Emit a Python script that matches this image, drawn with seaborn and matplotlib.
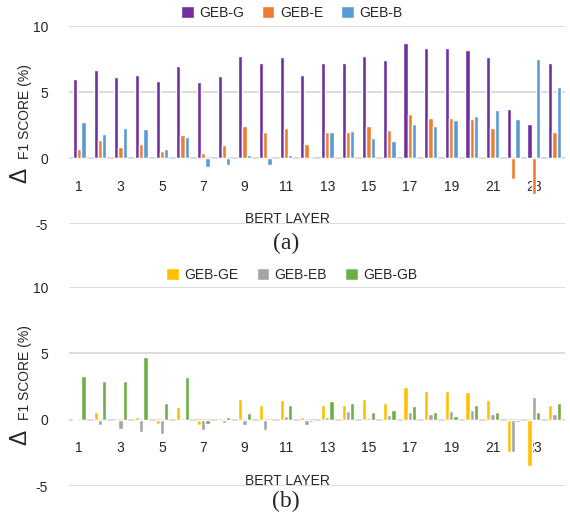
import numpy as np
import pandas as pd
import seaborn as sns
import matplotlib.pyplot as plt

# BERT layers 1..24
layers = list(range(1, 25))

# (a) single-embedding variants
geb_g = [6.0, 6.7, 6.1, 6.3, 5.8, 7.0, 5.75, 6.2, 7.75, 7.2, 7.65, 6.3,
         7.2, 7.2, 7.75, 7.4, 8.7, 8.3, 8.3, 8.2, 7.65, 3.75, 2.6, 7.2]
geb_e = [0.65, 1.4, 0.85, 1.05, 0.5, 1.75, 0.4, 0.95, 2.4, 1.95, 2.3, 1.05,
         1.95, 1.95, 2.4, 2.1, 3.3, 3.0, 3.0, 2.95, 2.3, -1.6, -2.7, 1.95]
geb_b = [2.75, 1.85, 2.3, 2.2, 0.65, 1.6, -0.65, -0.5, 0.2, -0.5, 0.2, 0.0,
         1.95, 2.05, 1.5, 1.3, 2.6, 2.4, 2.85, 3.2, 3.6, 2.95, 7.5, 5.4]

# (b) combined-embedding variants
geb_ge = [0.05, 0.6, 0.0, 0.2, -0.3, 0.95, -0.4, 0.15, 1.6, 1.1, 1.5, 0.2,
          1.15, 1.15, 1.6, 1.3, 2.5, 2.2, 2.2, 2.1, 1.5, -2.4, -3.5, 1.15]
geb_eb = [-0.05, -0.4, -0.7, -0.95, -1.05, -0.05, -0.8, -0.25, -0.4, -0.8, 0.3, -0.4,
          0.2, 0.65, 0.1, 0.35, 0.55, 0.4, 0.65, 0.75, 0.4, -2.4, 1.7, 0.4]
geb_gb = [3.3, 2.95, 2.95, 4.75, 1.3, 3.2, -0.3, 0.2, 0.5, -0.05, 1.15, -0.2,
          1.4, 1.3, 0.6, 0.75, 1.05, 0.6, 0.3, 1.15, 0.6, -0.2, 0.6, 1.3]

tick_layers = [str(n) for n in layers if n % 2 == 1]

sns.set_style('white')
plt.rcParams['font.family'] = ['Liberation Sans', 'DejaVu Sans']
plt.rcParams['axes.unicode_minus'] = False

fig = plt.figure(figsize=(5.7, 5.15), dpi=100)
ax_a = fig.add_axes([0.121, 0.565, 0.870, 0.3845])
ax_b = fig.add_axes([0.121, 0.0563, 0.870, 0.386])


def draw_panel(ax, series, colors, letter, leg_y, tag_y):
    df = pd.DataFrame({
        'layer': np.tile(layers, len(series)),
        'value': np.concatenate([v for v in series.values()]),
        'series': np.repeat(list(series.keys()), len(layers)),
    })
    sns.barplot(data=df, x='layer', y='value', hue='series', palette=colors,
                width=0.62, ax=ax, saturation=1)

    ax.set_ylim(-5, 10)
    ax.set_yticks([-5, 0, 5, 10])
    ax.yaxis.grid(True, color='#D9D9D9', lw=1.3)
    ax.set_axisbelow(True)
    for s in ax.spines.values():
        s.set_visible(False)

    # category labels sit just under the zero line
    ax.spines['bottom'].set_position(('data', 0))
    ax.set_xticks(range(0, 24, 2))
    ax.set_xticklabels(tick_layers)
    ax.tick_params(axis='x', length=0, pad=15.5, labelsize=10, colors='#262626')
    ax.tick_params(axis='y', length=0, pad=15, labelsize=10, colors='#262626')

    ax.set_xlabel('BERT LAYER', fontsize=10, color='#262626')
    ax.xaxis.set_label_coords(0.44, 0.06)
    ax.set_ylabel('')
    ax.text(-0.088, 0.57, 'F1 SCORE (%)', rotation=90, ha='center', va='center',
            fontsize=10, color='#262626', transform=ax.transAxes)
    ax.text(-0.099, 0.245, '\u0394', rotation=90, ha='center', va='center',
            fontsize=16.5, color='#262626', transform=ax.transAxes)

    ax.legend(loc='center', bbox_to_anchor=(0.512, leg_y), bbox_transform=fig.transFigure,
              ncol=3, frameon=False, fontsize=10, handlelength=0.9, handleheight=0.9,
              handletextpad=0.4, columnspacing=1.3)
    fig.text(0.502, tag_y, letter, ha='center', va='center', fontsize=17,
             family='Liberation Serif')


draw_panel(ax_a, {'GEB-G': geb_g, 'GEB-E': geb_e, 'GEB-B': geb_b},
           ['#7030A0', '#ED7D31', '#5B9BD5'], '(a)', 0.975, 0.527)
draw_panel(ax_b, {'GEB-GE': geb_ge, 'GEB-EB': geb_eb, 'GEB-GB': geb_gb},
           ['#FFC000', '#A5A5A5', '#70AD47'], '(b)', 0.466, 0.027)

plt.savefig('out.png', dpi=100)
